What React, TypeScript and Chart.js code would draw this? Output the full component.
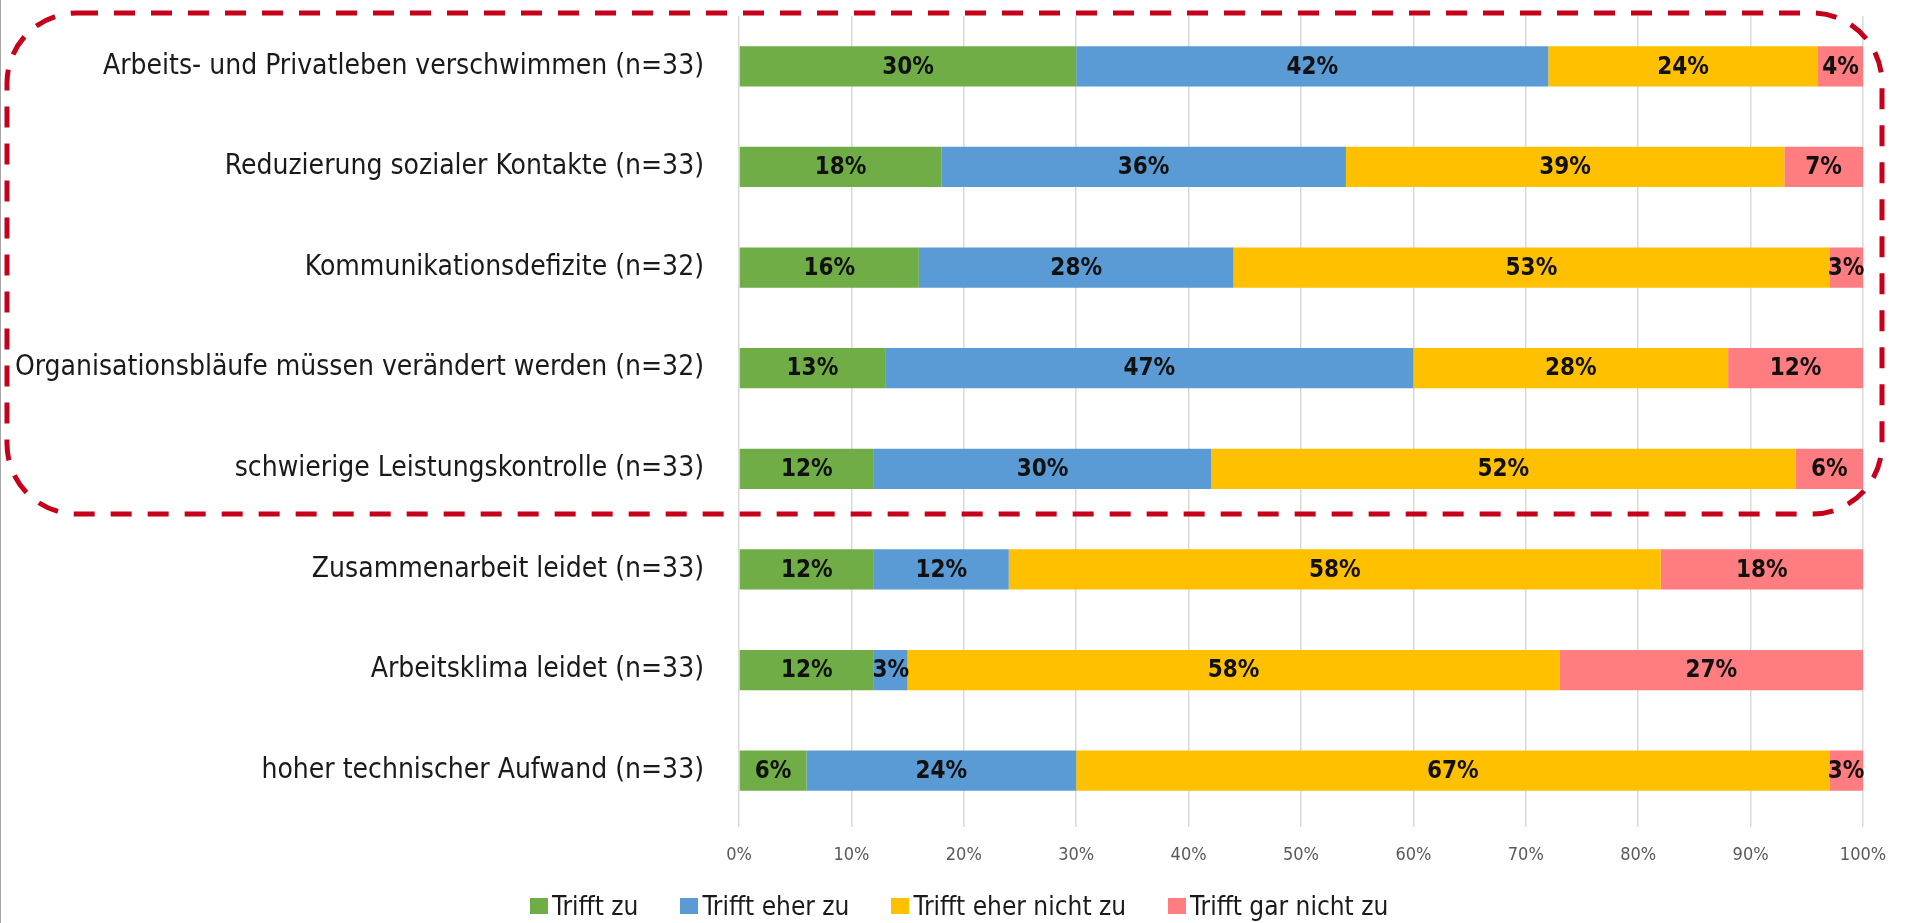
import React, { useEffect, useRef } from "react";
import { Chart, registerables } from "chart.js";

Chart.register(...registerables);

const categories = [
  "Arbeits- und Privatleben verschwimmen (n=33)",
  "Reduzierung sozialer Kontakte (n=33)",
  "Kommunikationsdefizite (n=32)",
  "Organisationsbläufe müssen verändert werden (n=32)",
  "schwierige Leistungskontrolle (n=33)",
  "Zusammenarbeit leidet (n=33)",
  "Arbeitsklima leidet (n=33)",
  "hoher technischer Aufwand (n=33)",
];

const seriesNames = ["Trifft zu", "Trifft eher zu", "Trifft eher nicht zu", "Trifft gar nicht zu"];
const trifftZu = [30, 18, 16, 13, 12, 12, 12, 6];
const trifftEherZu = [42, 36, 28, 47, 30, 12, 3, 24];
const trifftEherNichtZu = [24, 39, 53, 28, 52, 58, 58, 67];
const trifftGarNichtZu = [4, 7, 3, 12, 6, 18, 27, 3];
const seriesColors = ["#70AD47", "#5B9BD5", "#FFC000", "#FF7C80"];
const xTicks = [0, 10, 20, 30, 40, 50, 60, 70, 80, 90, 100];

const FONT = "'Liberation Sans Narrow', 'DejaVu Sans Condensed', 'Noto Sans', sans-serif";

const valueLabels = {
  id: "valueLabels",
  afterDatasetsDraw(chart: any) {
    const ctx = chart.ctx;
    ctx.save();
    ctx.font = `bold 24px ${FONT}`;
    ctx.fillStyle = "#111111";
    ctx.textAlign = "center";
    ctx.textBaseline = "middle";
    chart.data.datasets.forEach((ds: any, di: number) => {
      const meta = chart.getDatasetMeta(di);
      meta.data.forEach((bar: any, i: number) => {
        const v = ds.data[i];
        if (!v) return;
        const cx = (bar.x + bar.base) / 2;
        ctx.fillText(v + "%", cx, bar.y + 1);
      });
    });
    ctx.restore();
  },
};

const dashedFrame = {
  id: "dashedFrame",
  afterDraw(chart: any) {
    const ctx = chart.ctx;
    const y = chart.scales.y;
    const x = chart.scales.x;
    const step = y.getPixelForValue(1) - y.getPixelForValue(0);
    const top = y.getPixelForValue(0) - step * 0.53;
    const bottom = y.getPixelForValue(4) + step * 0.45;
    const left = 6;
    const right = x.getPixelForValue(100) + 19;
    const r = 70;
    ctx.save();
    ctx.strokeStyle = "#C4001A";
    ctx.lineWidth = 5;
    ctx.setLineDash([21, 16]);
    ctx.beginPath();
    ctx.moveTo(left + r, top);
    ctx.lineTo(right - r, top);
    ctx.arcTo(right, top, right, top + r, r);
    ctx.lineTo(right, bottom - r);
    ctx.arcTo(right, bottom, right - r, bottom, r);
    ctx.lineTo(left + r, bottom);
    ctx.arcTo(left, bottom, left, bottom - r, r);
    ctx.lineTo(left, top + r);
    ctx.arcTo(left, top, left + r, top, r);
    ctx.closePath();
    ctx.stroke();
    ctx.restore();
  },
};

export default function App() {
  const ref = useRef<HTMLCanvasElement | null>(null);

  useEffect(() => {
    document.body.style.margin = "0";
    const canvas = ref.current;
    if (!canvas) return;
    const series = [trifftZu, trifftEherZu, trifftEherNichtZu, trifftGarNichtZu];
    const chart = new Chart(canvas, {
      type: "bar",
      data: {
        labels: categories,
        datasets: series.map((d, i) => ({
          label: seriesNames[i],
          data: d,
          backgroundColor: seriesColors[i],
          borderWidth: 0,
          barPercentage: 0.4,
          categoryPercentage: 1,
        })),
      },
      options: {
        indexAxis: "y",
        responsive: false,
        animation: false,
        layout: { padding: { top: 16, right: 43, left: 0, bottom: 42 } },
        scales: {
          x: {
            stacked: true,
            min: 0,
            max: 100,
            afterBuildTicks: (s: any) => {
              s.ticks = xTicks.map((v) => ({ value: v }));
            },
            afterFit: (s: any) => {
              s.height = 60;
            },
            grid: { color: "#D9D9D9", lineWidth: 1.5, drawTicks: true, tickLength: 6 },
            border: { display: false },
            ticks: {
              callback: (v: any) => v + "%",
              color: "#595959",
              font: { family: FONT, size: 18 },
              padding: 18,
              maxRotation: 0,
            },
          },
          y: {
            stacked: true,
            grid: { display: false, drawTicks: false },
            border: { display: false },
            afterFit: (s: any) => {
              s.width = 738;
              s.paddingTop = 0;
              s.paddingBottom = 0;
            },
            ticks: {
              color: "#1a1a1a",
              font: { family: FONT, size: 28 },
              padding: 35,
            },
          },
        },
        plugins: {
          legend: { display: false },
          tooltip: { enabled: false },
        },
      },
      plugins: [valueLabels, dashedFrame],
    });
    return () => chart.destroy();
  }, []);

  return (
    <div style={{ width: 1906, height: 923, position: "relative", borderLeft: "1px solid #A6A6A6", boxSizing: "border-box", background: "#fff", overflow: "hidden" }}>
      <canvas ref={ref} width={1905} height={923} style={{ display: "block" }} />
      <div
        style={{
          position: "absolute",
          left: 529,
          top: 890,
          height: 32,
          display: "flex",
          alignItems: "center",
          gap: 42,
          fontFamily: FONT,
          fontSize: 26,
          color: "#1a1a1a",
          whiteSpace: "nowrap",
        }}
      >
        {seriesNames.map((n, i) => (
          <div key={n} style={{ display: "flex", alignItems: "center" }}>
            <span style={{ display: "inline-block", width: 18, height: 16, background: seriesColors[i], marginRight: 4 }} />
            <span>{n}</span>
          </div>
        ))}
      </div>
    </div>
  );
}
